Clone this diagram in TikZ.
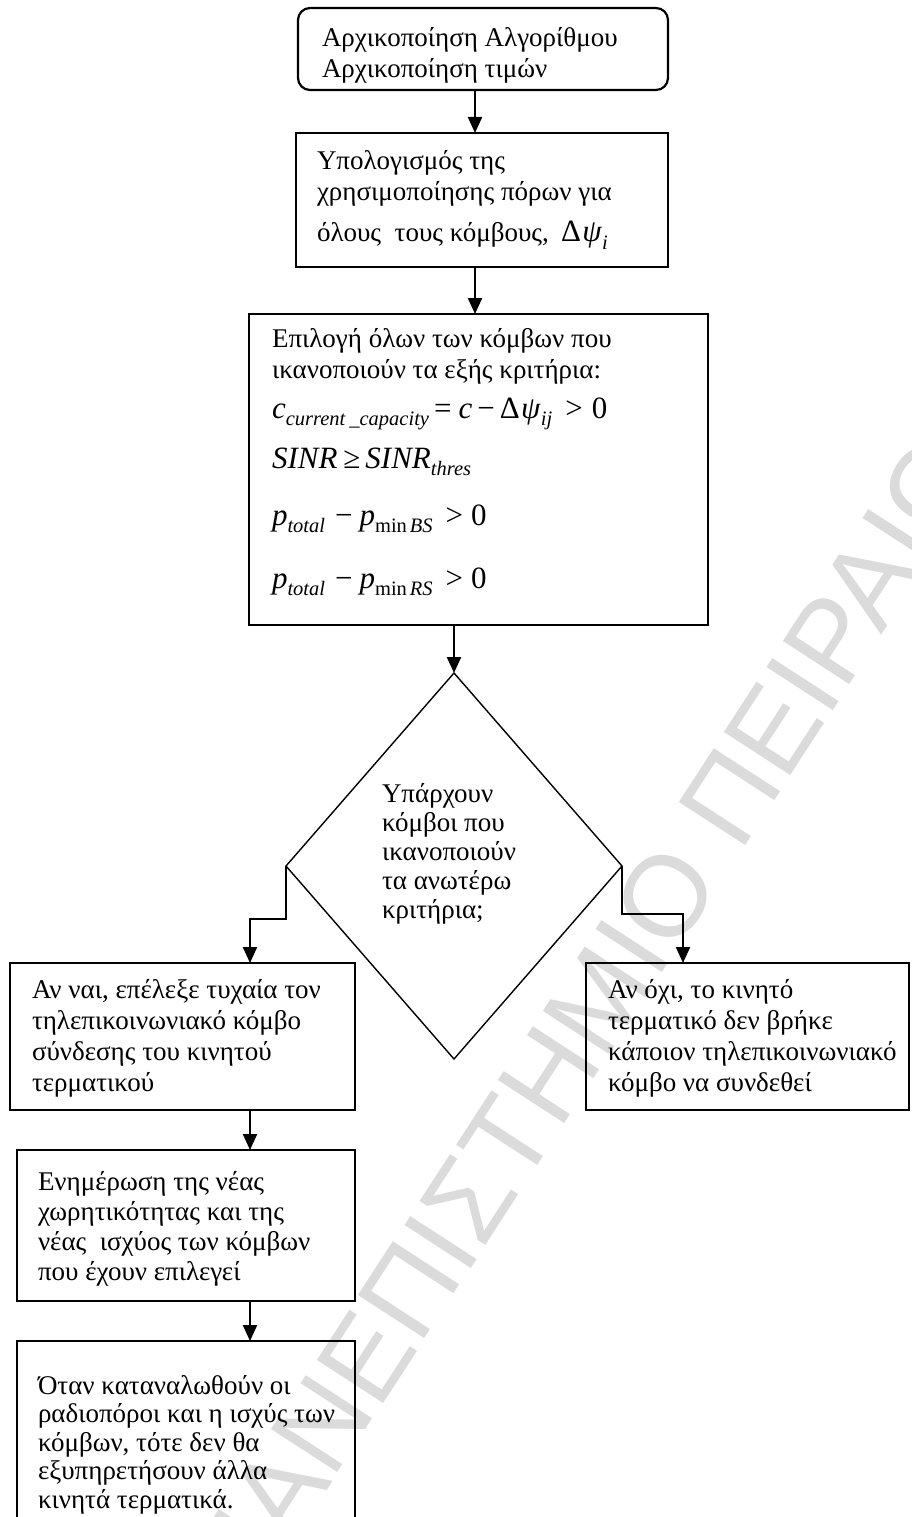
\documentclass[tikz,border=0pt]{standalone}
\usepackage{fontspec}
\setmainfont{Liberation Serif}
\newfontfamily\wmfont{Liberation Sans}
\usetikzlibrary{arrows.meta,shapes.geometric}

% italic symbols and lowered subscripts for the formulas
\newcommand\vi[1]{\textit{#1}}
\newcommand\subx[1]{\raisebox{-0.5ex}{\fontsize{20.5}{20.5}\selectfont #1}}
\newcommand\mathsize{\fontsize{31}{31}\selectfont}
% left-aligned block of lines whose baseline is the first line
\newcommand\lines[1]{\begin{tabular}[t]{@{}l@{}}#1\end{tabular}}

\begin{document}
\begin{tikzpicture}[x=1pt,y=-1pt,
  every node/.style={inner sep=0pt, outer sep=0pt},
  procbox/.style={draw, line width=2.2pt, anchor=north west},
  startbox/.style={procbox, rounded corners=12pt},
  txt/.style={anchor=base west, font=\fontsize{27}{31}\selectfont},
  flow/.style={line width=2.2pt, -{Triangle[length=16pt,width=14pt]}},
  decision/.style={diamond, draw, line width=1.4pt},
  watermark/.style={text=black!14, font=\wmfont\fontsize{115}{115}\selectfont}]

\useasboundingbox (0,0) rectangle (911,1517);
\clip (0,0) rectangle (911,1517);

% background watermark
\node[watermark, rotate=57] (wm) at (603,992) {ΠΑΝΕΠΙΣΤΗΜΙΟ ΠΕΙΡΑΙΩΣ};

% boxes
\node[startbox, minimum width=370pt, minimum height=82pt] (init) at (298,8) {};
\node[procbox, minimum width=372pt, minimum height=134pt] (calc) at (296,133) {};
\node[procbox, minimum width=459pt, minimum height=311pt] (sel) at (249,314) {};
\node[decision, minimum width=336pt, minimum height=386pt] (dec) at (454,866) {};
\node[procbox, minimum width=345pt, minimum height=147pt] (yes) at (10,963) {};
\node[procbox, minimum width=323pt, minimum height=147pt] (no) at (586,963) {};
\node[procbox, minimum width=338pt, minimum height=151pt] (upd) at (17,1150) {};
\node[procbox, minimum width=338pt, minimum height=200pt] (fin) at (17,1341) {};

% texts
\node[txt] (initT) at (322,47) {\lines{Αρχικοποίηση Αλγορίθμου\\Αρχικοποίηση τιμών}};
\node[txt] (calcT) at (317,170) {\lines{Υπολογισμός της\\χρησιμοποίησης πόρων για\\[10pt]όλους\hspace{0.5em}τους κόμβους,\hspace{0.45em}{\mathsize Δ\hspace{1.5pt}\vi{ψ}\subx{\vi{i}}}}};
\node[txt] (selT) at (272,347) {\lines{Επιλογή όλων των κόμβων που\\ικανοποιούν τα εξής κριτήρια:\\[9pt]%
{\mathsize\vi{c}\subx{\vi{current\hspace{4pt}\_capacity}}\hspace{5pt}=\hspace{7pt}\vi{c}\hspace{5pt}−\hspace{5pt}Δ\hspace{1.5pt}\vi{ψ}\subx{\vi{ij}}\hspace{13pt}>\hspace{9pt}0}\\[19pt]%
{\mathsize\vi{SINR}\hspace{6pt}≥\hspace{5pt}\vi{SINR}\subx{\vi{thres}}}\\[26pt]%
{\mathsize\vi{p}\subx{\vi{total}}\hspace{10pt}−\hspace{7pt}\vi{p}\subx{min\hspace{3pt}\vi{BS}}\hspace{13pt}>\hspace{8pt}0}\\[32pt]%
{\mathsize\vi{p}\subx{\vi{total}}\hspace{10pt}−\hspace{7pt}\vi{p}\subx{min\hspace{3pt}\vi{RS}}\hspace{13pt}>\hspace{8pt}0}}};
\node[txt, font=\fontsize{27}{29}\selectfont] (decT) at (382,802) {\lines{Υπάρχουν\\κόμβοι που\\ικανοποιούν\\τα ανωτέρω\\κριτήρια;}};
\node[txt] (yesT) at (32,998) {\lines{Αν ναι, επέλεξε τυχαία τον\\τηλεπικοινωνιακό κόμβο\\σύνδεσης του κινητού\\τερματικού}};
\node[txt] (noT) at (608,998) {\lines{Αν όχι, το κινητό\\τερματικό δεν βρήκε\\κάποιον τηλεπικοινωνιακό\\κόμβο να συνδεθεί}};
\node[txt, font=\fontsize{27}{30}\selectfont] (updT) at (38,1190) {\lines{Ενημέρωση της νέας\\χωρητικότητας και της\\νέας\hspace{0.5em}ισχύος των κόμβων\\που έχουν επιλεγεί}};
\node[txt, font=\fontsize{27}{28.5}\selectfont] (finT) at (38,1394) {\lines{Όταν καταναλωθούν οι\\ραδιοπόροι και η ισχύς των\\κόμβων, τότε δεν θα\\εξυπηρετήσουν άλλα\\κινητά τερματικά.}};

% connectors
\draw[flow] ([xshift=-8pt]init.south) -- ([xshift=-8pt]init.south |- calc.north);
\draw[flow] ([xshift=-7pt]calc.south) -- ([xshift=-7pt]calc.south |- sel.north);
\draw[flow] (dec.north |- sel.south) -- (dec.north);
\draw[flow] (dec.west) -- ++(0,53) -| ([xshift=67.5pt]yes.north);
\draw[flow] (dec.east) -- ++(0,48) -| ([xshift=-64.5pt]no.north);
\draw[flow] ([xshift=67.5pt]yes.south) -- ([xshift=67.5pt]yes.south |- upd.north);
\draw[flow] ([xshift=64pt]upd.south) -- ([xshift=64pt]upd.south |- fin.north);
\end{tikzpicture}
\end{document}
